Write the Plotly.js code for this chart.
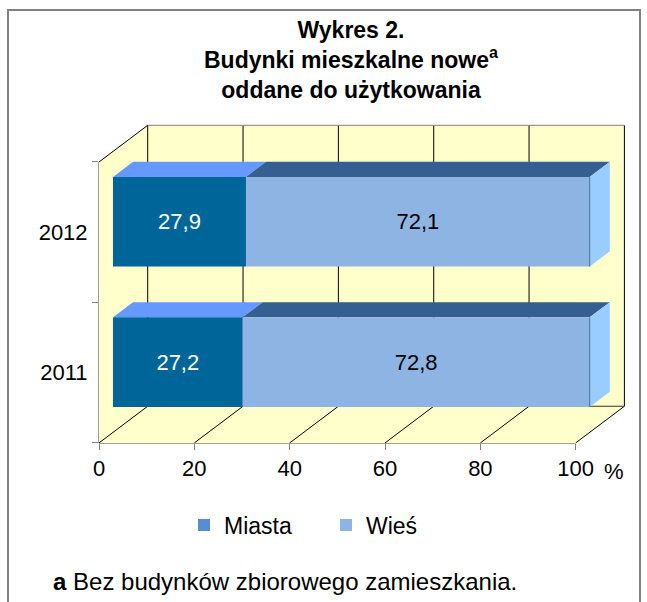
<!DOCTYPE html>
<html>
<head>
<meta charset="utf-8">
<script src="https://cdn.plot.ly/plotly-3.0.1.min.js"></script>
<style>html,body{margin:0;padding:0;background:#fff;}#chart{width:647px;height:602px;}</style>
</head>
<body>
<div id="chart"></div>
<script>
// ---- data ----
const years = ['2011', '2012'];
const miasta = [27.2, 27.9];
const wies = [72.8, 72.1];
const xTickVals = [0, 20, 40, 60, 80, 100];
const xTickText = ['0', '20', '40', '60', '80', '100'];
const seriesNames = ['Miasta', 'Wieś'];

// ---- layout constants ----
const W = 647, H = 602, L = 99, R = 17, T = 120, B = 159;
const plotW = W - L - R, plotH = H - T - B;
const PX_X = 4.767, PX_Y = 140.5;
const xMin = 0, xMax = plotW / PX_X;
const yMin = -0.5, yMax = yMin + plotH / PX_Y;
const DX = 48.7 / PX_X, DY = 36.7 / PX_Y;   // full depth of the 3D box
const F1 = 0.287, F2 = 0.70, HALF = 0.319;  // bar depth slice and half thickness
const FONT = 'Liberation Sans, Arial, sans-serif';
const WALL = '#FFFFCC';

const pos = years.map((_, i) => i);
const fmt = v => v.toFixed(1).replace('.', ',');
const total = miasta.map((m, i) => m + wies[i]);

function poly(pts, fill, layer) {
  return {type: 'path', xref: 'x', yref: 'y', layer: layer || 'below',
    path: 'M' + pts.map(p => p[0] + ',' + p[1]).join('L') + 'Z',
    fillcolor: fill, line: {width: 0}};
}
function seg(x0, y0, x1, y1, color, width, layer) {
  return {type: 'line', xref: 'x', yref: 'y', layer: layer || 'below',
    x0: x0, y0: y0, x1: x1, y1: y1, line: {color: color, width: width || 1}};
}

const shapes = [];
const yLo = yMin, yHi = pos[pos.length - 1] + 0.5;
// walls
shapes.push(poly([[0, yLo], [0, yHi], [DX, yHi + DY], [DX, yLo + DY]], WALL));
shapes.push(poly([[0, yLo], [100, yLo], [100 + DX, yLo + DY], [DX, yLo + DY]], WALL));
shapes.push(poly([[DX, yLo + DY], [100 + DX, yLo + DY], [100 + DX, yHi + DY], [DX, yHi + DY]], WALL));
// grid on back wall and floor
xTickVals.forEach(v => {
  shapes.push(seg(v + DX, yLo + DY, v + DX, yHi + DY, '#000', 1));
  shapes.push(seg(v, yLo, v + DX, yLo + DY, '#000', 1));
});
shapes.push(seg(DX, yHi + DY, 100 + DX, yHi + DY, '#808080', 1));
shapes.push(seg(DX, yLo + DY, 100 + DX, yLo + DY, '#303030', 1));
shapes.push(seg(0, yHi, DX, yHi + DY, '#000', 1));
// front axis lines
shapes.push({type: 'line', xref: 'paper', yref: 'y', x0: 0, x1: 0, y0: yLo, y1: yHi, layer: 'below', line: {color: '#808080', width: 1.5}});
shapes.push({type: 'line', xref: 'x', yref: 'paper', x0: 0, x1: 100, y0: 0, y1: 0, layer: 'below', line: {color: '#808080', width: 1.5}});

// bar top and side faces
pos.forEach((p, i) => {
  const yf = p + HALF + F1 * DY, yb = p + HALF + F2 * DY;
  const segs = [[0, miasta[i], '#6699FF'], [miasta[i], total[i], '#365F91']];
  segs.forEach(s => {
    shapes.push(poly([[s[0] + F1 * DX, yf], [s[1] + F1 * DX, yf], [s[1] + F2 * DX, yb], [s[0] + F2 * DX, yb]], s[2]));
  });
  const xe = total[i];
  shapes.push(poly([[xe + F1 * DX, p - HALF + F1 * DY], [xe + F1 * DX, p + HALF + F1 * DY],
    [xe + F2 * DX, p + HALF + F2 * DY], [xe + F2 * DX, p - HALF + F2 * DY]], '#99CCFF'));
  shapes.push(seg(xe + F1 * DX, p - HALF + F1 * DY, xe + F1 * DX, p + HALF + F1 * DY, '#4F6D96', 1, 'above'));
});

// outer frame
const px2paperX = px => (px - L) / plotW;
const px2paperY = py => (H - B - py) / plotH;
shapes.push({type: 'rect', xref: 'paper', yref: 'paper', layer: 'above',
  x0: px2paperX(8), x1: px2paperX(640), y0: px2paperY(640), y1: px2paperY(10),
  line: {color: '#808080', width: 2}, fillcolor: 'rgba(0,0,0,0)'});

const data = [
  {type: 'bar', orientation: 'h', name: seriesNames[0], showlegend: false, hoverinfo: 'skip',
   y: pos.map(p => p + F1 * DY), x: miasta, base: miasta.map(() => F1 * DX), width: 2 * HALF,
   marker: {color: '#006699', line: {width: 0}},
   text: miasta.map(fmt), textposition: 'inside', insidetextanchor: 'middle', textangle: 0,
   textfont: {family: FONT, size: 22, color: '#FFFFFF'}},
  {type: 'bar', orientation: 'h', name: seriesNames[1], showlegend: false, hoverinfo: 'skip',
   y: pos.map(p => p + F1 * DY), x: wies, base: miasta.map(m => F1 * DX + m), width: 2 * HALF,
   marker: {color: '#8EB4E3', line: {width: 0}},
   text: wies.map(fmt), textposition: 'inside', insidetextanchor: 'middle', textangle: 0,
   textfont: {family: FONT, size: 22, color: '#000000'}},
  {type: 'bar', orientation: 'h', name: seriesNames[0], x: [null], y: [null], yaxis: 'y2',
   marker: {color: '#558ED5'}, showlegend: true},
  {type: 'bar', orientation: 'h', name: seriesNames[1], x: [null], y: [null], yaxis: 'y2',
   marker: {color: '#8EB4E3'}, showlegend: true}
];

const layout = {
  width: W, height: H,
  margin: {l: L, r: R, t: T, b: B, pad: 0},
  paper_bgcolor: '#FFFFFF', plot_bgcolor: 'rgba(0,0,0,0)',
  font: {family: FONT, color: '#000'},
  barmode: 'overlay',
  title: {text: '<b>Wykres 2.</b><br><b>Budynki mieszkalne nowe<sup>a</sup></b><br><b>oddane do użytkowania</b>',
    font: {family: FONT, size: 23, color: '#000'},
    xref: 'container', x: 351 / W, xanchor: 'center', yref: 'container', y: 1 - 38 / H, yanchor: 'top'},
  xaxis: {range: [xMin - 0.0005, xMax], tickvals: xTickVals, ticktext: xTickText,
    ticks: 'outside', ticklen: 6, tickcolor: '#808080', tickwidth: 1,
    showgrid: false, zeroline: false, showline: false, fixedrange: true,
    tickfont: {family: FONT, size: 22, color: '#000'}},
  yaxis: {range: [yMin - 0.0005, yMax], tickvals: pos, ticktext: years,
    ticks: 'outside', ticklen: 6, tickcolor: 'rgba(0,0,0,0)',
    showgrid: false, zeroline: false, showline: false, fixedrange: true,
    tickfont: {family: FONT, size: 22, color: '#000'}},
  yaxis2: {overlaying: 'y', anchor: 'x', side: 'left', range: [yMin - 0.0005, yMax],
    tickvals: pos.map(p => p - 0.5).concat([pos[pos.length - 1] + 0.5]),
    ticks: 'outside', ticklen: 6, tickcolor: '#808080', showticklabels: false,
    showgrid: false, zeroline: false, showline: false, fixedrange: true},
  legend: {orientation: 'h', xref: 'container', yref: 'container', x: 184 / W, xanchor: 'left',
    y: 1 - 525 / H, yanchor: 'middle', entrywidth: 97, traceorder: 'normal',
    font: {family: FONT, size: 23, color: '#000'}, bgcolor: 'rgba(0,0,0,0)'},
  annotations: [
    {xref: 'x', yref: 'paper', x: 100, y: px2paperY(471), xanchor: 'left', yanchor: 'middle',
     xshift: 26, text: '%', showarrow: false, font: {family: FONT, size: 22, color: '#000'}},
    {xref: 'paper', yref: 'paper', x: px2paperX(51), y: px2paperY(581), xanchor: 'left', yanchor: 'middle',
     text: '<b>a</b> Bez budynków zbiorowego zamieszkania.', showarrow: false,
     font: {family: FONT, size: 24, color: '#000'}}
  ],
  shapes: shapes
};

Plotly.newPlot('chart', data, layout, {displayModeBar: false, staticPlot: true});
</script>
</body>
</html>
